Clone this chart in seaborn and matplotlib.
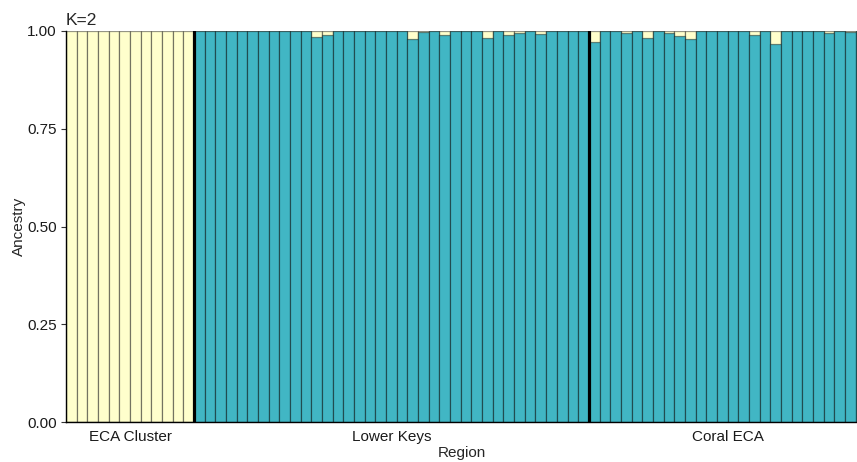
import numpy as np
import pandas as pd
import matplotlib
matplotlib.use("Agg")
import matplotlib.pyplot as plt
import seaborn as sns

# ---- data ----
regions = ["ECA Cluster", "Lower Keys", "Coral ECA"]
n_per_region = [12, 37, 26]

# ancestry proportion of cluster 2 (teal) per individual
eca_teal = [0.0] * 12
lower_keys_teal = [1.0, 1.0, 1.0, 1.0, 1.0, 1.0, 1.0, 1.0, 1.0, 1.0,
                   1.0, 0.985, 0.99, 1.0, 1.0, 1.0, 1.0, 1.0, 1.0, 1.0,
                   0.98, 0.997, 1.0, 0.99, 1.0, 1.0, 1.0, 0.983, 1.0, 0.99,
                   0.996, 1.0, 0.993, 1.0, 1.0, 1.0, 1.0]
coral_teal = [0.973, 1.0, 1.0, 0.995, 1.0, 0.983, 1.0, 0.995, 0.986, 0.979,
              1.0, 1.0, 1.0, 1.0, 1.0, 0.989, 1.0, 0.966, 1.0, 1.0,
              1.0, 1.0, 0.995, 1.0, 0.998, 1.0]

teal = eca_teal + lower_keys_teal + coral_teal
ind = list(range(len(teal)))
total = [1.0] * len(teal)

df = pd.DataFrame({"ind": ind, "teal": teal, "total": total})

yellow_c = "#FFFFCC"
teal_c = "#41B6C4"
edge_c = (0.0, 0.0, 0.0, 0.42)

sns.set_style("white")
plt.rcParams["font.family"] = ["Liberation Sans", "DejaVu Sans"]

fig = plt.figure(figsize=(8.57, 4.62), dpi=100)
ax = fig.add_axes([66 / 857, 40 / 462, 1 - 66 / 857, (422 - 31) / 462])

sns.barplot(data=df, x="ind", y="total", color=yellow_c, saturation=1,
            width=1.0, linewidth=0.9, errorbar=None, ax=ax)
sns.barplot(data=df, x="ind", y="teal", color=teal_c, saturation=1,
            width=1.0, linewidth=0.9, errorbar=None, ax=ax)
for p in ax.patches:
    p.set_edgecolor(edge_c)
    p.set_linewidth(0.9)

# region separators and labels
bounds = np.cumsum(n_per_region)
for b in bounds[:-1]:
    ax.axvline(b - 0.5, color="black", linewidth=2.3, zorder=5)
starts = np.concatenate([[0], bounds[:-1]])
centers = [s + (n - 1) / 2 for s, n in zip(starts, n_per_region)]

ax.set_xlim(-0.5, 73.63)
ax.set_ylim(0, 1)
ax.set_xticks(centers)
ax.set_xticklabels(regions, fontsize=11, color="#1a1a1a")
ax.set_yticks([0, 0.25, 0.5, 0.75, 1.0])
ax.set_yticklabels(["0.00", "0.25", "0.50", "0.75", "1.00"], fontsize=11, color="#1a1a1a")
ax.tick_params(axis="x", length=0, pad=6)
ax.tick_params(axis="y", length=3.5, width=0.8, color="#333333", pad=3, left=True)

ax.set_xlabel("Region", fontsize=11, labelpad=1)
ax.set_ylabel("Ancestry", fontsize=11, labelpad=1)
ax.set_title("K=2", loc="left", fontsize=12.5, pad=4)

for s in ["top", "right"]:
    ax.spines[s].set_visible(False)
for s in ["left", "bottom"]:
    ax.spines[s].set_color("black")
    ax.spines[s].set_linewidth(1.0)
    ax.spines[s].set_zorder(6)

fig.savefig("out.png", dpi=100)
